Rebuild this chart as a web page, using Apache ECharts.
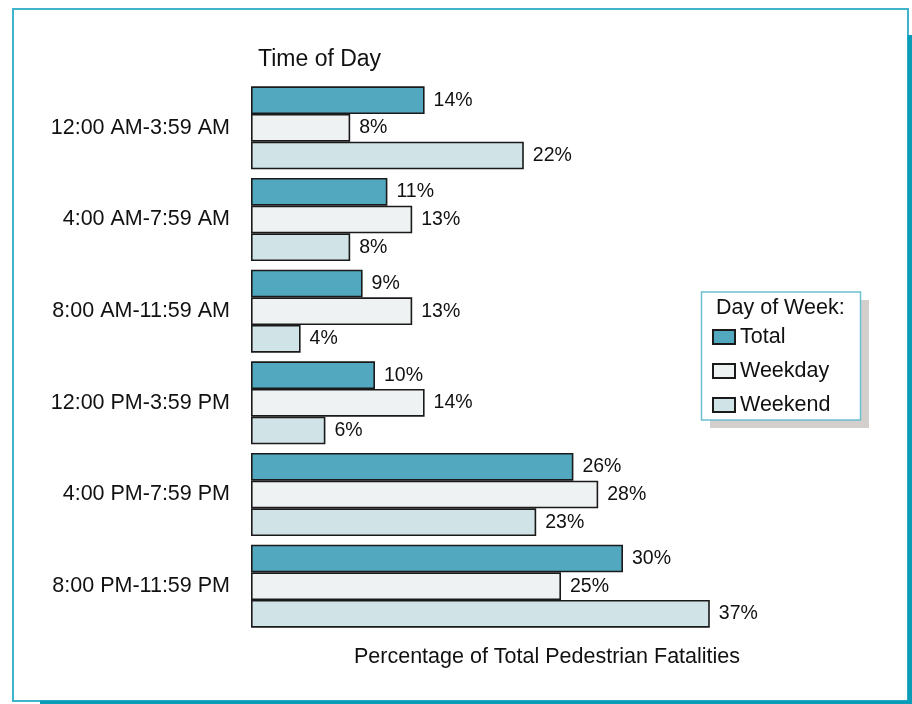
<!DOCTYPE html>
<html>
<head>
<meta charset="utf-8">
<script src="https://cdn.jsdelivr.net/npm/echarts@6/dist/echarts.min.js"></script>
<style>
html,body{margin:0;padding:0;background:#fff;}
#chart{width:912px;height:704px;}
</style>
</head>
<body>
<div id="chart"></div>
<script>
var categories = ['12:00 AM-3:59 AM','4:00 AM-7:59 AM','8:00 AM-11:59 AM','12:00 PM-3:59 PM','4:00 PM-7:59 PM','8:00 PM-11:59 PM'];
var seriesNames = ['Total','Weekday','Weekend'];
var totalValues = [14, 11, 9, 10, 26, 30];
var weekdayValues = [8, 13, 13, 14, 28, 25];
var weekendValues = [22, 8, 4, 6, 23, 37];
var yTitle = 'Time of Day';
var xTitle = 'Percentage of Total Pedestrian Fatalities';
var legendTitle = 'Day of Week:';

var colors = ['#52a9bf', '#eef2f3', '#d0e3e7'];
var font = 'Liberation Sans, Arial, sans-serif';

function makeSeries(name, data, color) {
  return {
    name: name,
    type: 'bar',
    data: data,
    barGap: '0%',
    barCategoryGap: '9.4%',
    itemStyle: { color: color, borderColor: '#1a1a1a', borderWidth: 1.6 },
    label: {
      show: true, position: 'right', distance: 9,
      formatter: '{c}%', fontSize: 19.5, color: '#111', fontFamily: font
    },
    emphasis: { disabled: true },
    animation: false
  };
}

var chart = echarts.init(document.getElementById('chart'), null, { renderer: 'canvas' });
chart.setOption({
  animation: false,
  backgroundColor: '#fff',
  grid: { left: 251, top: 82, width: 496, height: 550 },
  xAxis: {
    type: 'value', min: 0, max: 40,
    axisLine: { show: false }, axisTick: { show: false },
    axisLabel: { show: false }, splitLine: { show: false }
  },
  yAxis: {
    type: 'category', data: categories, inverse: true,
    axisLine: { show: false }, axisTick: { show: false },
    axisLabel: { fontSize: 21.5, color: '#111', margin: 21, fontFamily: font }
  },
  legend: {
    data: seriesNames,
    orient: 'vertical',
    left: 707, top: 321,
    itemWidth: 22, itemHeight: 14, itemGap: 12,
    icon: 'rect',
    selectedMode: false,
    textStyle: { fontSize: 21.5, color: '#111', fontFamily: font, lineHeight: 22 }
  },
  graphic: [
    { type: 'rect', z: 0, shape: { x: 13, y: 9, width: 895, height: 692 }, style: { fill: 'none', stroke: '#3fb4ca', lineWidth: 2 } },
    { type: 'rect', z: 0, shape: { x: 907.5, y: 35, width: 4.5, height: 669 }, style: { fill: '#0b9cb8' } },
    { type: 'rect', z: 0, shape: { x: 40, y: 700.5, width: 872, height: 3.5 }, style: { fill: '#0b9cb8' } },
    { type: 'rect', z: 0, shape: { x: 710, y: 300, width: 159, height: 128 }, style: { fill: '#d3cfcc' } },
    { type: 'rect', z: 0, shape: { x: 701.5, y: 292, width: 159, height: 128 }, style: { fill: '#fff', stroke: '#6bbfcf', lineWidth: 1.5 } },
    { type: 'text', z: 1, left: 716, top: 297, style: { text: legendTitle, fontSize: 21.5, fill: '#111', fontFamily: font } },
    { type: 'text', z: 1, left: 258, top: 48, style: { text: yTitle, fontSize: 23, fill: '#111', fontFamily: font } },
    { type: 'text', z: 1, left: 354, top: 646, style: { text: xTitle, fontSize: 21.5, fill: '#111', fontFamily: font } }
  ],
  series: [
    makeSeries(seriesNames[0], totalValues, colors[0]),
    makeSeries(seriesNames[1], weekdayValues, colors[1]),
    makeSeries(seriesNames[2], weekendValues, colors[2])
  ]
});
</script>
</body>
</html>
